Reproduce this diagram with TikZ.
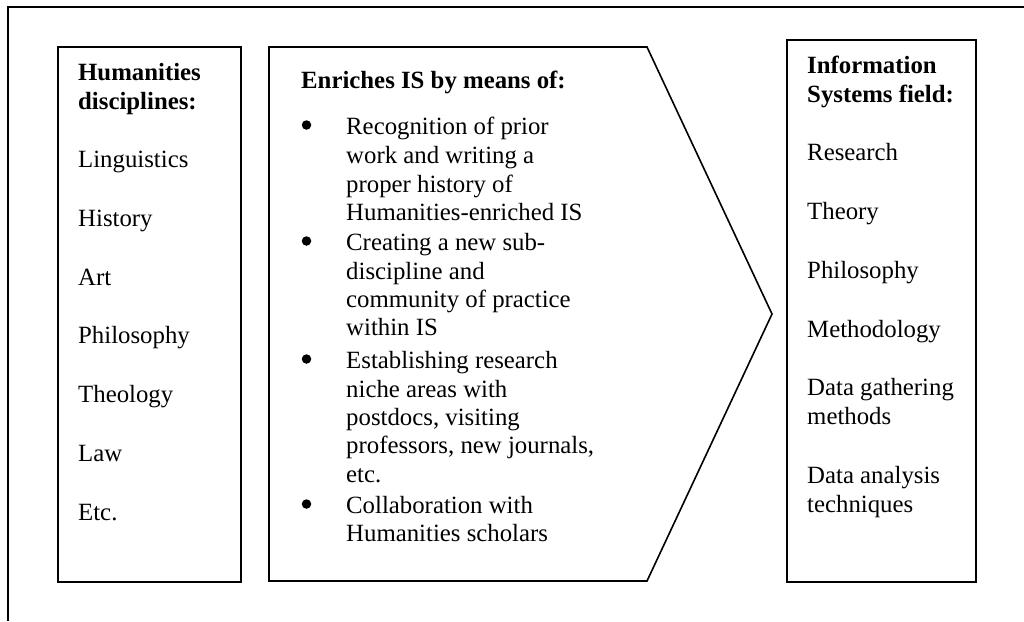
\documentclass[tikz,border=0pt]{standalone}
\usepackage{fontspec}
\setmainfont{Liberation Serif}

\tikzset{
	panel/.style={draw, line width=1.6pt, rectangle, inner sep=0pt, outer sep=0pt, anchor=north west},
	entry/.style={anchor=base west, inner sep=0pt, font=\fontsize{24.8}{29}\selectfont},
	heading/.style={entry, font=\fontsize{24.8}{29}\selectfont\bfseries},
	dot/.style={circle, fill, inner sep=0pt, minimum size=9.5pt},
}

\begin{document}
\begin{tikzpicture}[x=1pt,y=-1pt]
		\useasboundingbox (0,0) rectangle (1024,621);
		
		% outer frame (only top and left edges show)
		\coordinate (fbl) at (8,621);
		\coordinate (ftl) at (8,7);
		\coordinate (ftr) at (1024,7);
		\draw[line width=1.6pt] (fbl)--(ftl)--(ftr);
		
		% boxes
		\node[panel, minimum width=183pt, minimum height=535pt] (hum) at (58,47) {};
		\node[panel, minimum width=189pt, minimum height=542pt] (isf) at (787,40) {};
		\coordinate (m1) at (269,47);
		\coordinate (m2) at (647,47);
		\coordinate (tip) at (772,314);
		\coordinate (m3) at (647,581);
		\coordinate (m4) at (269,581);
		\draw[line width=1.6pt, line join=miter] (m1)--(m2)--(tip)--(m3)--(m4)--cycle;
		
		% left column
		\node[heading] (humt1) at (78,80) {Humanities};
		\node[heading] (humt2) at (78,109) {disciplines:};
		\foreach \y/\t [count=\i] in {167/Linguistics, 226/History, 285/Art, 343/Philosophy, 402/Theology, 461/Law, 520/Etc.}
			\node[entry] (hum\i) at (78,\y) {\t};
		
		% middle column
		\node[heading] (midt) at (301,88) {Enriches IS by means of:};
		\foreach \y [count=\i] in {134, 250, 368, 513}
			\node[dot] (bul\i) at (306.5,\y-9) {};
		\foreach \y/\t [count=\i] in {134/Recognition of prior, 163/work and writing a, 192/proper history of, 220/Humanities-enriched IS,
			250/Creating a new sub-, 279/discipline and, 307/community of practice, 335/within IS,
			368/Establishing research, 397/niche areas with, 425/{postdocs, visiting}, 453/{professors, new journals,}, 482/etc.,
			513/Collaboration with, 541/Humanities scholars}
			\node[entry] (mid\i) at (346,\y) {\t};
		
		% right column
		\node[heading] (isft1) at (807,73) {Information};
		\node[heading] (isft2) at (807,102) {Systems field:};
		\foreach \y/\t [count=\i] in {160/Research, 219/Theory, 278/Philosophy, 337/Methodology, 395/Data gathering, 424/methods, 483/Data analysis, 512/techniques}
			\node[entry] (isf\i) at (807,\y) {\t};
\end{tikzpicture}
\end{document}
